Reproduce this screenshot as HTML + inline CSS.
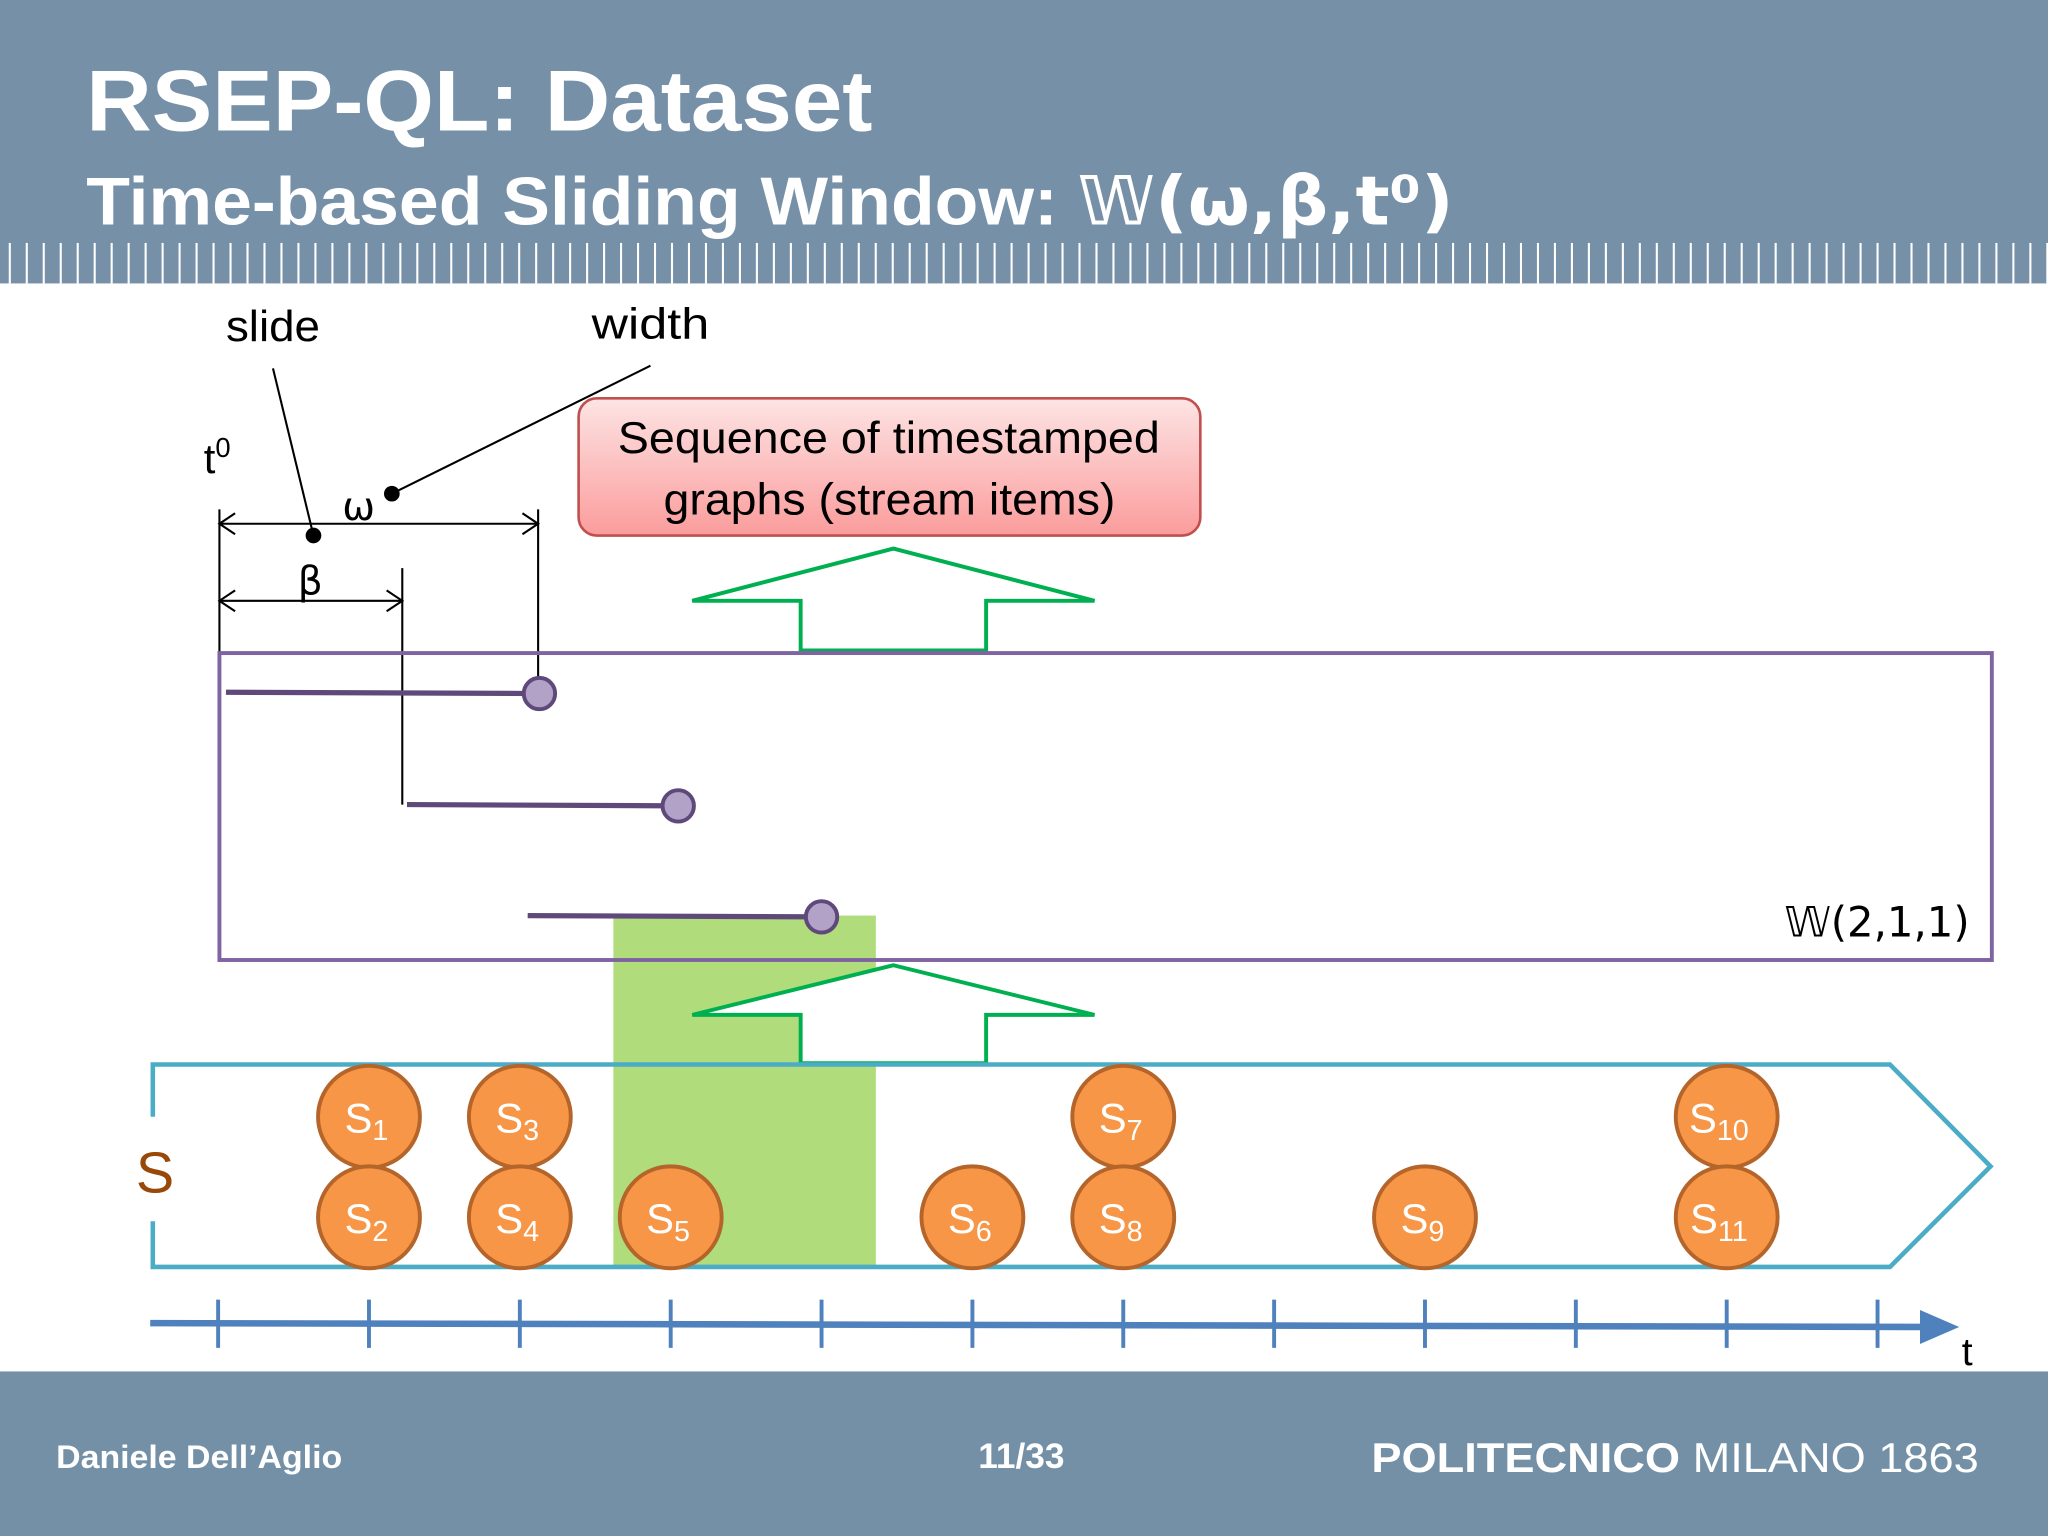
<!DOCTYPE html>
<html><head><meta charset="utf-8"><style>
html,body{margin:0;padding:0;background:#fff}
svg{display:block}
text{font-family:"Liberation Sans",sans-serif}
.c{font-family:"DejaVu Sans","Liberation Sans",sans-serif}
</style></head><body>
<svg width="2048" height="1536" viewBox="0 0 1568 1176" xmlns="http://www.w3.org/2000/svg">
<rect x="0" y="0" width="1568" height="217" fill="#7690a8"/>
<g id="stripes"></g>
<text x="66" y="100" font-size="66" font-weight="bold" fill="#fff" textLength="602" lengthAdjust="spacingAndGlyphs">RSEP-QL: Dataset</text>
<text x="66" y="172" font-size="52" font-weight="bold" fill="#fff" textLength="1047" lengthAdjust="spacingAndGlyphs">Time-based Sliding Window:  <tspan class="c">𝕎(ω,β,t⁰)</tspan></text>
<rect x="0" y="1050" width="1568" height="126" fill="#7390a7"/>
<text x="43" y="1124" font-size="25" font-weight="bold" fill="#fff" textLength="219" lengthAdjust="spacingAndGlyphs">Daniele Dell’Aglio</text>
<text x="782" y="1124" font-size="27" font-weight="bold" fill="#fff" text-anchor="middle">11/33</text>
<text x="1050" y="1127" font-size="32" fill="#fff" textLength="465" lengthAdjust="spacingAndGlyphs"><tspan font-weight="bold">POLITECNICO</tspan> MILANO 1863</text>

<g stroke="#000" fill="none" stroke-width="1.6">
<line x1="168" y1="390" x2="168" y2="500"/>
<line x1="308" y1="435" x2="308" y2="616"/>
<line x1="412" y1="390" x2="412" y2="530"/>
<line x1="168" y1="401" x2="412" y2="401"/>
<polyline points="180,393 168,401 180,409"/><polyline points="400,393 412,401 400,409"/>
<line x1="168" y1="460" x2="308" y2="460"/>
<polyline points="180,452 168,460 180,468"/><polyline points="296,452 308,460 296,468"/>
<line x1="209" y1="282" x2="240" y2="410"/>
<line x1="300" y1="378" x2="498" y2="280"/>
</g>
<circle cx="240" cy="410" r="6" fill="#000"/>
<circle cx="300" cy="378" r="6" fill="#000"/>
<text x="173" y="261" font-size="33" textLength="72" lengthAdjust="spacingAndGlyphs">slide</text>
<text x="453" y="259" font-size="33" textLength="90" lengthAdjust="spacingAndGlyphs">width</text>
<text x="156" y="362" font-size="32">t<tspan font-size="21" dy="-12">0</tspan></text>
<text x="262" y="398" font-size="30" class="c">ω</text>
<text x="228" y="455" font-size="30" class="c">β</text>

<defs><linearGradient id="pg" x1="0" y1="0" x2="0" y2="1"><stop offset="0" stop-color="#fde4e4"/><stop offset="1" stop-color="#fb9c9c"/></linearGradient></defs>
<rect x="443" y="305" width="476" height="105" rx="14" fill="url(#pg)" stroke="#c0504d" stroke-width="2"/>
<text x="473" y="347" font-size="34" textLength="415" lengthAdjust="spacingAndGlyphs">Sequence of timestamped</text>
<text x="508" y="394" font-size="34" textLength="346" lengthAdjust="spacingAndGlyphs">graphs (stream items)</text>

<polygon points="613,498 613,460 530,460 684,420 838,460 755,460 755,498" fill="#fff" stroke="#00b050" stroke-width="3"/>

<rect id="hl" x="470" y="701" width="201" height="269" fill="#b0dc7c"/>
<rect x="168" y="500" width="1357" height="235" fill="none" stroke="#8064a2" stroke-width="3"/>
<text x="1508" y="717" font-size="32" text-anchor="end" class="c">𝕎(2,1,1)</text>
<g id="wins"></g>

<polygon points="613,814 613,777 530,777 684,739 838,777 755,777 755,814" fill="#fff" stroke="#00b050" stroke-width="3"/>
<polyline points="117,855 117,815 1447,815 1524,893 1447,970 117,970 117,935" fill="none" stroke="#4bacc6" stroke-width="3.5"/>
<text x="104" y="913" font-size="44" fill="#984807">S</text>
<g id="items"></g>
<g id="axis"></g>
<text x="1502" y="1045" font-size="30">t</text>
</svg>
<script>
const NS='http://www.w3.org/2000/svg';
const itemTimes=[1,1,2,2,3,5,6,6,8,10,10];
const itemRows=[0,1,0,1,1,1,0,1,1,0,1];
const itemLabels=['1','2','3','4','5','6','7','8','9','10','11'];
const tickTimes=[0,1,2,3,4,5,6,7,8,9,10,11];
const winStarts=[0,1.2,2];
const winEnds=[2.13,3.05,4];
const hlStart=2.62, hlEnd=4.36;
const x=t=>167+115.5*t;
const rowY=r=>855+r*77;
function mk(tag,attrs,parent){const e=document.createElementNS(NS,tag);for(const k in attrs)e.setAttribute(k,attrs[k]);parent.appendChild(e);return e;}
const st=document.getElementById('stripes');
for(let sx=7.5;sx<1568;sx+=13){const l=mk('line',{x1:sx,y1:186,x2:sx,y2:217,stroke:'#fff','stroke-width':1.6},st);

}
const hl=document.getElementById('hl');hl.setAttribute('x',x(hlStart));hl.setAttribute('width',x(hlEnd)-x(hlStart));
const wg=document.getElementById('wins');const wy=[530,616,701];
winStarts.forEach((s,i)=>{const l=mk('line',{x1:x(s)+6,y1:wy[i],x2:x(winEnds[i]),y2:wy[i]+1,stroke:'#5f497a','stroke-width':4},wg);


const c=mk('circle',{cx:x(winEnds[i]),cy:wy[i]+1,r:12,fill:'#b3a2c7',stroke:'#5f497a','stroke-width':3},wg);

});
const ig=document.getElementById('items');
itemTimes.forEach((t,i)=>{const g=mk('g',{},ig);


mk('ellipse',{cx:x(t),cy:rowY(itemRows[i]),rx:39,ry:39,fill:'#f79646',stroke:'#b5652a','stroke-width':3},g);
const tx=mk('text',{x:x(t)-(itemLabels[i].length>1?6:2),y:rowY(itemRows[i])+12,'font-size':32,fill:'#fff','text-anchor':'middle'},g);
tx.innerHTML='S<tspan font-size="22" dy="6">'+itemLabels[i]+'</tspan>';});
const ag=document.getElementById('axis');
const al=mk('line',{x1:115,y1:1013,x2:1485,y2:1016,stroke:'#4f81bd','stroke-width':5},ag);


const ah=mk('polygon',{points:'1470,1003 1500,1016 1470,1029',fill:'#4f81bd'},ag);


tickTimes.forEach(t=>{const l=mk('line',{x1:x(t),y1:995,x2:x(t),y2:1032,stroke:'#4f81bd','stroke-width':3},ag);

});
</script>
</body></html>
